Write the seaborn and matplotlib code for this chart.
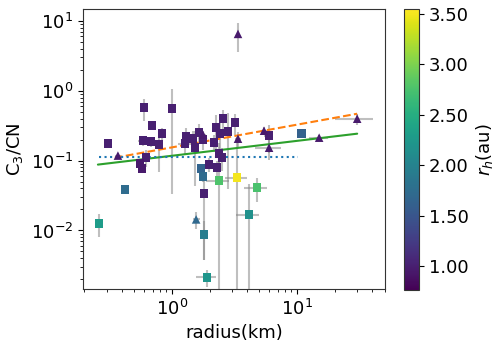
import numpy as np
import matplotlib
matplotlib.use("Agg")
import matplotlib.pyplot as plt
import seaborn as sns
from matplotlib.colors import Normalize

# ----------------------------------------------------------
# data
# ----------------------------------------------------------

# square markers
sq_x = [0.308, 0.597, 0.692, 0.586, 0.679, 0.832, 0.787, 0.619, 0.555, 0.575,
        1.00, 1.29, 1.27, 1.47, 1.64, 1.53, 1.77, 2.25, 2.17, 2.42,
        2.56, 2.81, 3.19, 2.38, 2.51, 1.98, 2.29, 1.71, 1.77, 2.38,
        3.31, 1.80, 1.80, 4.79, 4.13, 1.91, 0.421, 0.261, 5.97, 10.8]
sq_y = [0.175, 0.571, 0.316, 0.193, 0.187, 0.243, 0.169, 0.110, 0.0906, 0.0768,
        0.553, 0.220, 0.175, 0.206, 0.251, 0.153, 0.200, 0.296, 0.181, 0.243,
        0.398, 0.259, 0.349, 0.126, 0.110, 0.0877, 0.0794, 0.0768, 0.0590, 0.0518,
        0.0572, 0.0338, 0.00877, 0.0412, 0.0169, 0.00213, 0.0385, 0.0126, 0.228, 0.243]
sq_xerr = [0.02, 0.04, 0.05, 0.05, 0.05, 0.05, 0.05, 0.04, 0.03, 0.03,
           0.05, 0.08, 0.15, 0.08, 0.10, 0.08, 0.10, 0.12, 0.10, 0.15,
           0.15, 0.15, 0.20, 0.12, 0.12, 0.10, 0.10, 0.08, 0.08, 0.50,
           0.66, 0.08, 0.08, 1.00, 0.86, 0.35, 0.02, 0.01, 0.50, 0.80]
sq_yerr = [0.02, 0.20, 0.04, 0.03, 0.03, 0.05, 0.10, 0.03, 0.01, 0.01,
           0.52, 0.07, 0.05, 0.06, 0.08, 0.11, 0.06, 0.15, 0.05, 0.10,
           0.13, 0.22, 0.12, 0.05, 0.04, 0.02, 0.02, 0.01, 0.01, 0.06,
           0.16, 0.03, 0.005, 0.016, 0.03, 0.0006, 0.005, 0.0045, 0.10, 0.02]
sq_rh = [1.00, 1.00, 1.00, 1.00, 1.00, 1.00, 1.00, 1.00, 0.95, 0.95,
         1.00, 1.00, 1.00, 1.00, 1.00, 1.00, 1.00, 1.00, 1.00, 1.00,
         1.00, 1.00, 1.00, 1.00, 1.00, 1.00, 1.00, 1.65, 1.72, 2.77,
         3.50, 1.00, 1.93, 2.75, 2.16, 2.21, 1.74, 2.29, 1.00, 1.62]

# triangle markers
tri_x = [0.370, 3.37, 3.37, 5.44, 5.97, 15.0, 30.2, 1.56, 1.77]
tri_y = [0.118, 6.52, 0.206, 0.268, 0.153, 0.213, 0.398, 0.0144, 0.235]
tri_xerr = [0.02, 0.05, 0.20, 0.30, 1.40, 2.50, 10.0, 0.10, 0.10]
tri_yerr = [0.01, 2.90, 0.05, 0.03, 0.05, 0.02, 0.07, 0.004, 0.03]
tri_rh = [0.95, 0.95, 0.95, 0.95, 0.95, 0.95, 0.95, 1.70, 0.95]

# trend lines (end points)
orange_x = [0.35, 30.2]
orange_y = [0.110, 0.469]
green_x = [0.256, 30.2]
green_y = [0.0877, 0.243]
blue_x = [0.26, 10.2]
blue_y = [0.114, 0.114]

RH_MIN, RH_MAX = 0.76, 3.55
cbar_ticks = [1.0, 1.5, 2.0, 2.5, 3.0, 3.5]

# ----------------------------------------------------------
# plot
# ----------------------------------------------------------

sns.set_style("ticks")
plt.rcParams["font.family"] = ["DejaVu Sans"]
plt.rcParams["axes.edgecolor"] = "#333333"
plt.rcParams["text.color"] = "black"
plt.rcParams["axes.labelcolor"] = "black"
plt.rcParams["xtick.color"] = "black"
plt.rcParams["ytick.color"] = "black"

fig = plt.figure(figsize=(4.99, 3.47), dpi=100)
ax = fig.add_axes([0.166, 0.167, 0.606, 0.807])
cax = fig.add_axes([0.810, 0.164, 0.030, 0.810])

norm = Normalize(vmin=RH_MIN, vmax=RH_MAX)

ax.errorbar(sq_x, sq_y, xerr=sq_xerr, yerr=sq_yerr, fmt="none",
            ecolor="gray", elinewidth=1.5, alpha=0.5, zorder=1)
ax.errorbar(tri_x, tri_y, xerr=tri_xerr, yerr=tri_yerr, fmt="none",
            ecolor="gray", elinewidth=1.5, alpha=0.5, zorder=1)

sc = ax.scatter(sq_x, sq_y, c=sq_rh, cmap="viridis", norm=norm,
                marker="s", s=38, linewidths=0, zorder=3)
ax.scatter(tri_x, tri_y, c=tri_rh, cmap="viridis", norm=norm,
           marker="^", s=38, linewidths=0, zorder=3)

ax.plot(orange_x, orange_y, color="C1", ls="--", lw=1.5, zorder=2)
ax.plot(green_x, green_y, color="C2", ls="-", lw=1.5, zorder=2)
ax.plot(blue_x, blue_y, color="C0", ls=":", lw=1.5, zorder=2)

ax.set_xscale("log")
ax.set_yscale("log")
ax.set_xlim(0.194, 50.6)
ax.set_ylim(1.45e-3, 14.8)

ax.set_xlabel("radius(km)", fontsize=13)
ax.set_ylabel("C$_3$/CN", fontsize=13)
ax.tick_params(labelsize=13)

cb = fig.colorbar(sc, cax=cax, ticks=cbar_ticks, format="%.2f")
cb.set_label("$r_h$(au)", fontsize=13)
cb.ax.tick_params(labelsize=13)

plt.savefig("out.png", dpi=100)
plt.close()
